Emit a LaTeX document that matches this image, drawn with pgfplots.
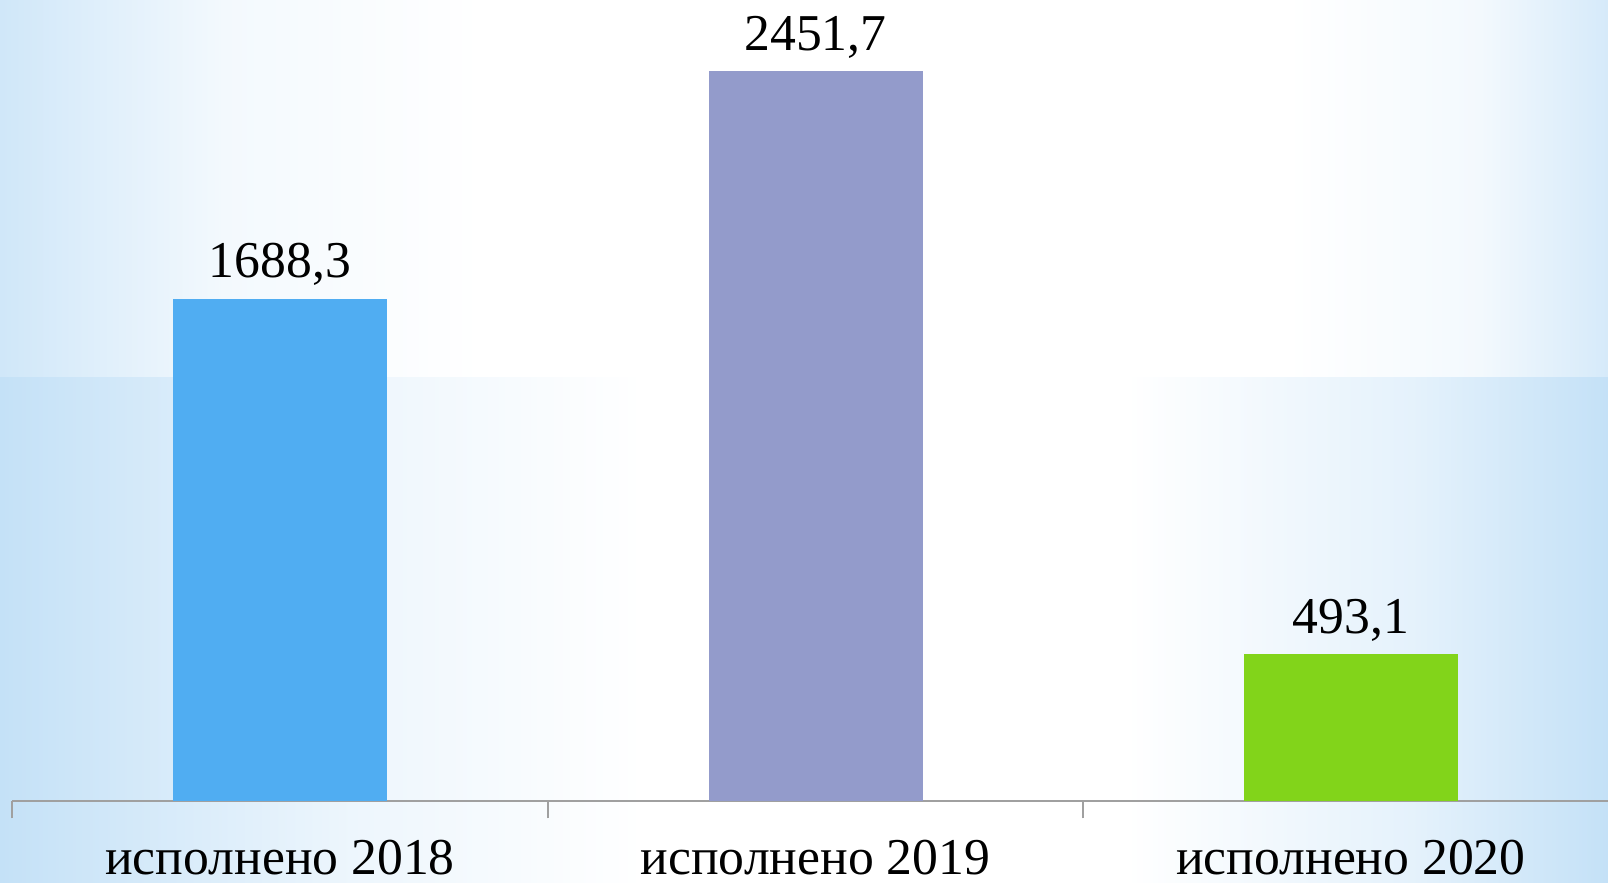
\documentclass[border=0pt]{standalone}
\usepackage{pgfplots}
\pgfplotsset{compat=1.18}
\usepackage{fontspec}
\setmainfont{Liberation Serif}

\definecolor{bar18}{HTML}{50ADF2}
\definecolor{bar19}{HTML}{939BCB}
\definecolor{bar20}{HTML}{82D41A}
\definecolor{bgblue}{HTML}{C4E1F7}
\definecolor{axgray}{HTML}{A0A0A0}

% фон слайда: голубые края, белая середина (путь занимает 25bp..75bp)
\pgfdeclarehorizontalshading{bglow}{100bp}{color(0bp)=(bgblue); color(25bp)=(bgblue); color(36bp)=(bgblue!30); color(45bp)=(white); color(60bp)=(white); color(69bp)=(bgblue!45); color(75bp)=(bgblue); color(100bp)=(bgblue)}
\pgfdeclarehorizontalshading{bgtop}{100bp}{color(0bp)=(bgblue!80); color(25bp)=(bgblue!80); color(32bp)=(bgblue!20); color(40bp)=(white); color(65bp)=(white); color(71bp)=(bgblue!20); color(75bp)=(bgblue!70); color(100bp)=(bgblue!70)}

\begin{document}
\begin{tikzpicture}
% 1px = 0.3pt
\shade[shading=bglow] (-3.69pt,-24.6pt) rectangle (478.71pt,127.2pt);
\shade[shading=bgtop] (-3.69pt,127.2pt) rectangle (478.71pt,240.3pt);

\begin{axis}[
  scale only axis,
  width=478.71pt, height=240.3pt,
  xmin=-0.5, xmax=2.48,
  ymin=0, ymax=2692,
  axis x line*=bottom,
  axis y line=none,
  axis line style={axgray, line width=0.6pt},
  xtick={0,1,2},
  xticklabels={исполнено 2018, исполнено 2019, исполнено 2020},
  minor xtick={-0.5,0.5,1.5,2.5},
  major tick length=0pt,
  minor tick length=5.2pt,
  tick align=outside,
  every tick/.style={axgray, line width=0.6pt},
  x tick label style={font=\fontsize{15.5}{18}\selectfont, anchor=base, yshift=-22pt},
  ybar, bar width=64.2pt, bar shift=0pt,
  point meta=explicit symbolic,
  nodes near coords,
  every node near coord/.append style={font=\fontsize{15.5}{18}\selectfont, anchor=base, yshift=6.3pt, inner sep=0pt},
  clip=false,
]
\addplot[fill=bar18, draw=none] coordinates {(0,1688.3) [1688,3]};
\addplot[fill=bar19, draw=none] coordinates {(1,2451.7) [2451,7]};
\addplot[fill=bar20, draw=none] coordinates {(2,493.1) [493,1]};
\end{axis}

\pgfresetboundingbox
\useasboundingbox (-3.69pt,-24.6pt) rectangle (478.71pt,240.3pt);
\end{tikzpicture}
\end{document}
